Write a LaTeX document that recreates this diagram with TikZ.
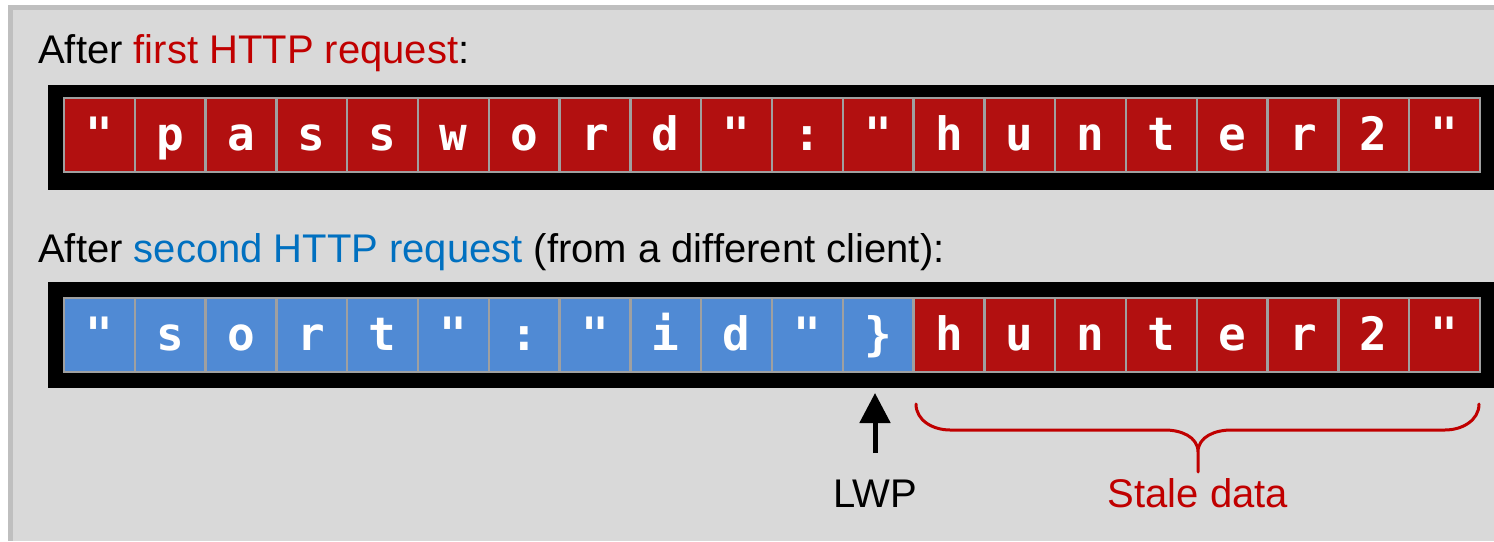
\documentclass[tikz,border=0pt]{standalone}
\usepackage{fontspec}
\setmainfont{Liberation Sans}
\newfontfamily\monob{DejaVu Sans Mono}
\usetikzlibrary{arrows.meta}
\definecolor{cellred}{RGB}{178,16,16}
\definecolor{cellblue}{RGB}{80,138,212}
\definecolor{textred}{RGB}{192,0,0}
\definecolor{textblue}{RGB}{0,112,192}
\definecolor{panel}{RGB}{217,217,217}
\definecolor{panelborder}{RGB}{191,191,191}
\definecolor{cellborder}{RGB}{160,160,160}
\tikzset{
  cell/.style={draw=cellborder, line width=2.5pt, inner sep=0pt, minimum width=70.8pt,
    text height=52pt, text depth=22pt, text=white, font=\monob\bfseries\fontsize{46}{50}\selectfont},
  redcell/.style={cell, fill=cellred},
  bluecell/.style={cell, fill=cellblue},
  heading/.style={anchor=base west, inner sep=0pt, font=\fontsize{40}{46}\selectfont},
  label/.style={anchor=base, inner sep=0pt, font=\fontsize{40}{46}\selectfont},
}
\begin{document}
\begin{tikzpicture}[x=1pt,y=-1pt]
\useasboundingbox (0,0) rectangle (1494,541);
\fill[white] (0,0) rectangle (1494,541);
\fill[panelborder] (8,5) rectangle (1494,541);
\fill[panel] (13,10) rectangle (1494,541);
% headings
\node[heading] (h1) at (38,63) {After \textcolor{textred}{first HTTP request}:};
\node[heading] (h2) at (38,262) {After \textcolor{textblue}{second HTTP request} (from a different client):};
% bars
\fill[black] (48,85) rectangle (1494,190);
\fill[black] (48,282) rectangle (1494,388);
% first row
\foreach \c [count=\i] in {{"},p,a,s,s,w,o,r,d,{"},:,{"},h,u,n,t,e,r,2,{"}} {
  \node[redcell] (a\i) at ({64+70.8*(\i-0.5)},135) {\c};
}
% second row
\foreach \c [count=\i] in {{"},s,o,r,t,{"},:,{"},i,d,{"},\}} {
  \node[bluecell] (b\i) at ({64+70.8*(\i-0.5)},335) {\c};
}
\foreach \c [count=\i from 13] in {h,u,n,t,e,r,2,{"}} {
  \node[redcell] (b\i) at ({64+70.8*(\i-0.5)},335) {\c};
}
% labels
\node[label] (lwp) at (875,507) {LWP};
\node[label, text=textred] (stale) at (1198,507) {Stale data};
% arrow
\coordinate (arrowtop) at (875,393);
\coordinate (arrowbot) at (875,453);
\draw[line width=5pt, -{Triangle[width=30pt,length=30pt]}] (arrowbot) -- (arrowtop);
% brace
\coordinate (brL) at (916,404);
\coordinate (brR) at (1479,404);
\coordinate (brM) at (1198,472);
\draw[textred, line width=3pt, line cap=round, line join=round]
  (brL) to[out=-90,in=180] (950,430) -- (1165,430) to[out=0,in=90] (1198,452) -- (brM)
  (brR) to[out=-90,in=0] (1445,430) -- (1231,430) to[out=180,in=90] (1198,452);
\end{tikzpicture}
\end{document}
